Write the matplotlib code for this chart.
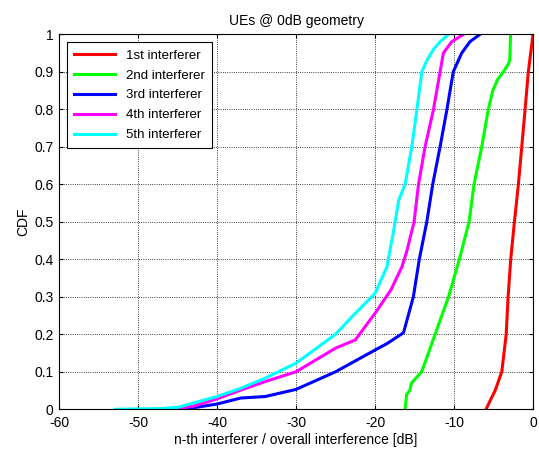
import numpy as np
import matplotlib.pyplot as plt
plt.rcParams.update({'font.size': 10})
plt.rcParams.update({'font.family': ['Liberation Sans', 'DejaVu Sans']})
plt.rcParams.update({'axes.unicode_minus': False})

# CDF samples (interference level in dB, cumulative probability)
cdf_1st_x = [-5.95, -5.5, -4.8, -3.96, -3.4, -3.16, -2.83, -2.36, -1.86, -1.43, -1.01, -0.6, 0.0]
cdf_1st_y = [0.0, 0.02, 0.05, 0.1, 0.2, 0.3, 0.4, 0.5, 0.6, 0.7, 0.8, 0.9, 1.0]

cdf_2nd_x = [-16.2, -16.0, -15.6, -15.4, -14.1, -12.4, -10.7, -9.33, -8.1, -7.47, -6.5,
             -5.66, -5.1, -4.47, -3.76, -3.16, -2.95, -2.85]
cdf_2nd_y = [0.0, 0.04, 0.05, 0.07, 0.1, 0.2, 0.3, 0.4, 0.5, 0.6, 0.7,
             0.8, 0.85, 0.88, 0.9, 0.92, 0.93, 1.0]

cdf_3rd_x = [-46.0, -43.0, -40.0, -37.0, -33.9, -30.0, -25.0, -20.0, -18.5, -16.4,
             -15.15, -14.4, -13.45, -12.7, -11.77, -10.9, -10.1, -9.03, -8.0, -6.7]
cdf_3rd_y = [0.0, 0.004, 0.014, 0.03, 0.034, 0.053, 0.1, 0.158, 0.175, 0.204,
             0.3, 0.4, 0.5, 0.6, 0.7, 0.8, 0.9, 0.95, 0.98, 1.0]

cdf_4th_x = [-46.0, -43.0, -40.0, -37.0, -33.9, -30.0, -25.0, -22.5, -20.0, -18.0,
             -16.6, -16.0, -15.06, -14.5, -13.67, -12.6, -11.77, -11.35, -10.3, -8.8]
cdf_4th_y = [0.0, 0.008, 0.028, 0.051, 0.074, 0.1, 0.163, 0.185, 0.256, 0.318,
             0.38, 0.42, 0.5, 0.6, 0.7, 0.8, 0.9, 0.95, 0.98, 1.0]

cdf_5th_x = [-52.9, -47.0, -45.0, -40.0, -37.0, -33.9, -30.0, -25.0, -23.0, -20.0,
             -18.5, -17.7, -17.0, -16.2, -15.35, -14.7, -14.08, -13.45, -12.6, -11.77, -10.7]
cdf_5th_y = [0.0, 0.002, 0.005, 0.034, 0.056, 0.083, 0.123, 0.2, 0.245, 0.309,
             0.38, 0.47, 0.558, 0.6, 0.7, 0.8, 0.9, 0.93, 0.96, 0.98, 1.0]

labels = ['1st interferer', '2nd interferer', '3rd interferer', '4th interferer', '5th interferer']
colors = ['#ff0000', '#00ff00', '#0000ff', '#ff00ff', '#00ffff']
xs = [cdf_1st_x, cdf_2nd_x, cdf_3rd_x, cdf_4th_x, cdf_5th_x]
ys = [cdf_1st_y, cdf_2nd_y, cdf_3rd_y, cdf_4th_y, cdf_5th_y]

fig = plt.figure(figsize=(5.39, 4.51), dpi=100, facecolor='w')
ax = fig.add_axes([0.1095, 0.0925, 0.8795, 0.8315])
for x, y, c, lab in zip(xs, ys, colors, labels):
    ax.plot(x, y, color=c, lw=2.2, label=lab)

ax.set_xlim([-60, 0])
ax.set_ylim([0, 1])
ax.set_xticks(np.arange(-60, 1, 10))
ax.set_yticks(np.arange(0, 1.01, 0.1))
ax.set_yticklabels(['0', '0.1', '0.2', '0.3', '0.4', '0.5', '0.6', '0.7', '0.8', '0.9', '1'])
ax.grid(True, color='k', linestyle=':', linewidth=0.6)
ax.tick_params(direction='in', length=3, top=True, right=True)
ax.tick_params(axis='x', pad=5)
ax.tick_params(axis='y', pad=4)
for s in ax.spines.values():
    s.set_linewidth(0.8)
ax.set_title('UEs @ 0dB geometry', fontsize=10, pad=7)
ax.set_xlabel('n-th interferer / overall interference [dB]', labelpad=2)
ax.set_ylabel('CDF', labelpad=3)
leg = ax.legend(loc='upper left', bbox_to_anchor=(0.017, 0.979), borderaxespad=0,
                fancybox=False, edgecolor='k', framealpha=1, fontsize=9.5,
                handlelength=3.1, borderpad=0.55, labelspacing=0.58, handletextpad=0.8)
leg.get_frame().set_linewidth(0.8)
fig.savefig('out.png', dpi=100)
